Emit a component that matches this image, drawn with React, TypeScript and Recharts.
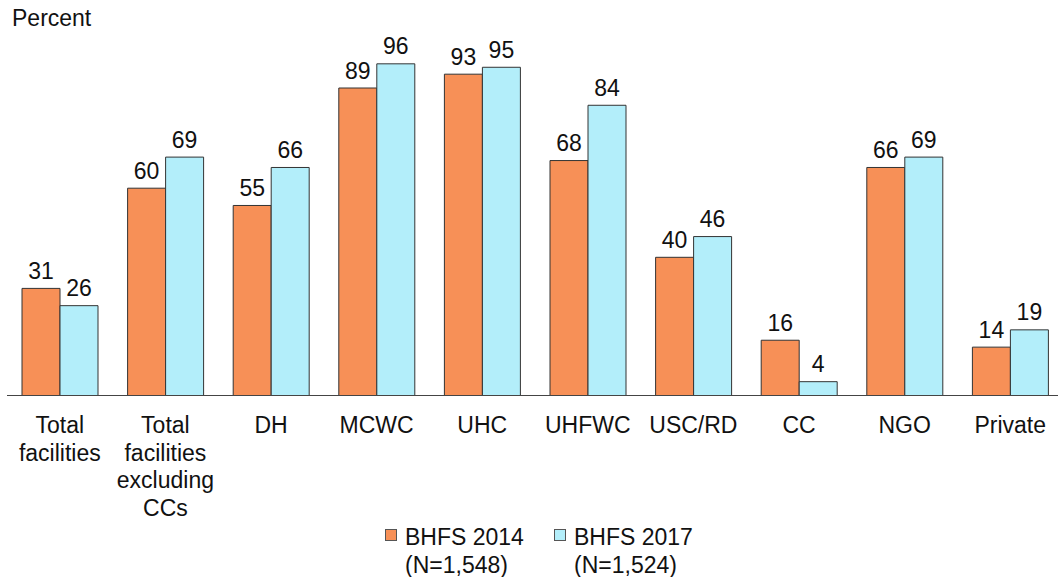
import { Bar, BarChart, LabelList, XAxis, YAxis } from "recharts";

const categories = [
  "Total facilities",
  "Total facilities excluding CCs",
  "DH",
  "MCWC",
  "UHC",
  "UHFWC",
  "USC/RD",
  "CC",
  "NGO",
  "Private",
];
const tickLines: string[][] = [
  ["Total", "facilities"],
  ["Total", "facilities", "excluding", "CCs"],
  ["DH"],
  ["MCWC"],
  ["UHC"],
  ["UHFWC"],
  ["USC/RD"],
  ["CC"],
  ["NGO"],
  ["Private"],
];
const bhfs2014 = [31, 60, 55, 89, 93, 68, 40, 16, 66, 14];
const bhfs2017 = [26, 69, 66, 96, 95, 84, 46, 4, 69, 19];

const series = [
  { key: "y2014", label: "BHFS 2014", sub: "(N=1,548)", color: "#F79057" },
  { key: "y2017", label: "BHFS 2017", sub: "(N=1,524)", color: "#B3EEFA" },
];

const data = categories.map((c, i) => ({ name: c, idx: i, y2014: bhfs2014[i], y2017: bhfs2017[i] }));

const font = "'Liberation Sans', Arial, sans-serif";
const ink = "#111";

function CategoryTick({ x, y, index }: any) {
  const lines = tickLines[index] || [];
  return (
    <text x={x} y={y} textAnchor='middle' fontSize={23} fontFamily={font} fill={ink}>
      {lines.map((l, i) => (
        <tspan key={i} x={x} y={y + 37.5 + i * 27.5}>
          {l}
        </tspan>
      ))}
    </text>
  );
}

export default function App() {
  return (
    <div style={{ position: "absolute", left: 0, top: 0, width: 1058, height: 577, overflow: "hidden", fontFamily: font }}>
      <div style={{ position: "absolute", left: 12, top: 6.5, fontSize: 23, lineHeight: "23px", color: ink }}>Percent</div>
      <BarChart width={1070} height={577} data={data} margin={{ top: 50, right: 7, left: 7, bottom: 0 }} barGap={0}>
        <XAxis
          dataKey='name'
          height={181.5}
          interval={0}
          tickSize={0}
          tickMargin={0}
          tickLine={false}
          axisLine={{ stroke: "#444", strokeWidth: 1 }}
          tick={<CategoryTick />}
        />
        <YAxis hide domain={[0, 100]} />
        {series.map((s) => (
          <Bar key={s.key} dataKey={s.key} fill={s.color} stroke='#333' strokeWidth={1} barSize={38} isAnimationActive={false}>
            <LabelList dataKey={s.key} position='top' offset={9.5} fontSize={23} fontFamily={font} fill={ink} />
          </Bar>
        ))}
      </BarChart>
      {series.map((s, i) => (
        <div key={s.key} style={{ position: "absolute", left: i === 0 ? 385 : 554, top: 523 }}>
          <div
            style={{
              position: "absolute",
              left: 0,
              top: 6,
              width: 10,
              height: 10,
              background: s.color,
              border: "1px solid #555",
            }}
          />
          <div style={{ position: "absolute", left: 20, top: 0, fontSize: 23, lineHeight: "28px", color: ink, whiteSpace: "nowrap" }}>
            {s.label}
            <br />
            {s.sub}
          </div>
        </div>
      ))}
    </div>
  );
}
